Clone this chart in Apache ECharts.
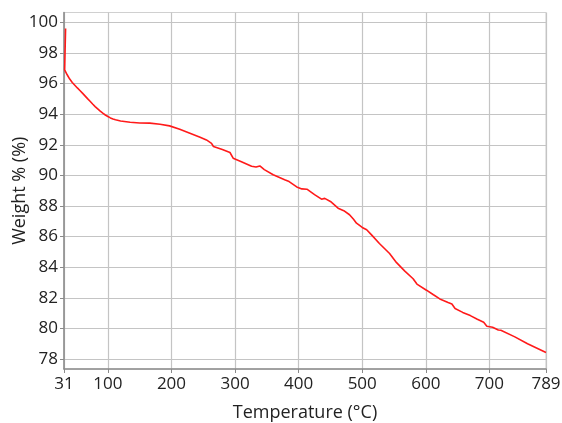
<!DOCTYPE html>
<html>
<head>
<meta charset="utf-8">
<script src="https://cdn.jsdelivr.net/npm/echarts@6/dist/echarts.min.js"></script>
<style>html,body{margin:0;padding:0;background:#fff}#c{width:562px;height:423px}</style>
</head>
<body>
<div id="c"></div>
<script>
const temperatures = [33.5, 32, 36, 40, 44, 48, 52, 56, 60, 64, 68, 72, 76, 80, 84, 88, 92, 96, 100, 104, 108, 112, 120, 135, 150, 166, 182, 197, 213, 229, 245, 255, 263, 266, 280, 292, 297, 310, 326, 333, 339, 346, 360, 378, 385, 397, 405, 413, 425, 436, 441, 450, 462, 471, 480, 486, 491, 500, 507, 515, 527, 543, 554, 567, 580, 586, 601, 612, 622, 635, 641, 646, 658, 670, 681, 691, 696, 705, 714, 716, 718, 740, 760, 789];
const weights = [99.6, 96.9, 96.58, 96.3, 96.08, 95.9, 95.72, 95.55, 95.38, 95.2, 95.02, 94.85, 94.67, 94.5, 94.35, 94.2, 94.07, 93.95, 93.85, 93.76, 93.69, 93.64, 93.56, 93.48, 93.43, 93.42, 93.35, 93.24, 93.02, 92.76, 92.5, 92.32, 92.1, 91.89, 91.7, 91.5, 91.13, 90.9, 90.6, 90.55, 90.62, 90.38, 90.05, 89.72, 89.6, 89.25, 89.12, 89.1, 88.75, 88.45, 88.5, 88.3, 87.86, 87.7, 87.43, 87.15, 86.88, 86.6, 86.45, 86.1, 85.55, 84.9, 84.3, 83.75, 83.25, 82.9, 82.5, 82.2, 81.93, 81.7, 81.6, 81.3, 81.05, 80.84, 80.6, 80.4, 80.14, 80.08, 79.9, 79.98, 79.88, 79.45, 79.0, 78.43];
const xTicks = [31, 100, 200, 300, 400, 500, 600, 700, 789];
const yTicks = [78, 80, 82, 84, 86, 88, 90, 92, 94, 96, 98, 100];

const chart = echarts.init(document.getElementById('c'), null, {renderer: 'canvas'});
const font = '"Open Sans", "Liberation Sans", sans-serif';
chart.setOption({
  animation: false,
  backgroundColor: '#fff',
  grid: {left: 64, right: 16, top: 12.5, bottom: 54, containLabel: false, outerBoundsMode: 'none', show: true, borderColor: '#d0d0d0', borderWidth: 1},
  xAxis: {
    type: 'value', min: 31, max: 789,
    name: 'Temperature (°C)', nameLocation: 'middle', nameGap: 35,
    nameTextStyle: {fontFamily: font, fontSize: 18, color: '#222'},
    axisLine: {lineStyle: {color: '#8a8a8a', width: 1.5}},
    axisTick: {show: true, length: 4, customValues: xTicks, lineStyle: {color: '#8a8a8a'}},
    axisLabel: {customValues: xTicks, fontFamily: font, fontSize: 17, color: '#222', margin: 7, showMinLabel: true, showMaxLabel: true},
    splitLine: {show: true, lineStyle: {color: '#c4c4c4', width: 1.2}}
  },
  yAxis: {
    type: 'value', min: 77.35, max: 100.65,
    name: 'Weight % (%)', nameLocation: 'middle', nameGap: 35, nameRotate: 90, nameMoveOverlap: false,
    nameTextStyle: {fontFamily: font, fontSize: 18, color: '#222'},
    axisLine: {show: true, lineStyle: {color: '#8a8a8a', width: 1.5}},
    axisTick: {show: true, length: 4, customValues: yTicks, lineStyle: {color: '#8a8a8a'}},
    axisLabel: {customValues: yTicks, fontFamily: font, fontSize: 17, color: '#222', margin: 6},
    splitLine: {show: true, lineStyle: {color: '#c4c4c4', width: 1.2}}
  },
  series: [{
    type: 'line',
    data: temperatures.map((t, i) => [t, weights[i]]),
    showSymbol: false,
    smooth: false,
    lineStyle: {color: '#ff1a1a', width: 1.6},
    itemStyle: {color: '#ff1a1a'}
  }]
});
</script>
</body>
</html>
